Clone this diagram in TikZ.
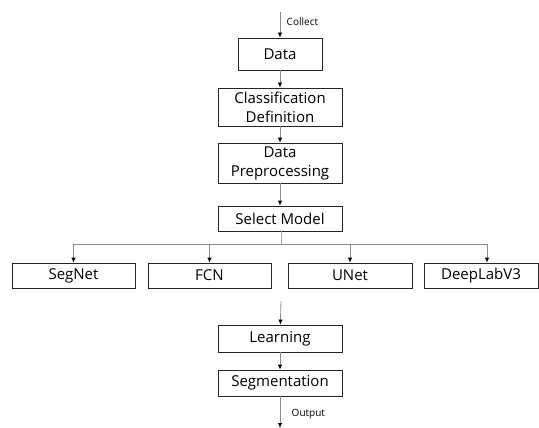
\documentclass[tikz,border=0pt]{standalone}
\usepackage{fontspec}
\setmainfont{Open Sans}
\usetikzlibrary{arrows.meta}

\tikzset{
  stage/.style={draw=black!85, line width=0.8pt, minimum width=124pt, minimum height=26pt,
    inner sep=0pt, align=center, font=\fontsize{15}{19}\selectfont},
  flow/.style={draw=black!45, line width=0.8pt, -{Latex[length=5pt,width=4.5pt,color=black]}},
  tag/.style={font=\fontsize{10}{12}\selectfont, anchor=west},
}

\begin{document}
\begin{tikzpicture}[x=1pt,y=-1pt]
\useasboundingbox (0,0) rectangle (539,428);

% main pipeline boxes
\node[stage, minimum width=84pt, minimum height=32pt] (data) at (280,54) {Data};
\node[stage, minimum height=38pt] (cls) at (280,107) {Classification\\Definition};
\node[stage, minimum height=40pt] (pre) at (280,163) {Data\\Preprocessing};
\node[stage, minimum height=25pt] (sel) at (280,218.5) {Select Model};

% candidate models
\node[stage, minimum width=123pt, minimum height=25pt] (segnet) at (73.5,275.5) {SegNet};
\node[stage, minimum width=123pt, minimum height=25pt] (fcn) at (209.5,275.5) {FCN};
\node[stage, minimum width=124pt, minimum height=25pt] (unet) at (350,275.5) {UNet};
\node[stage, minimum width=114pt, minimum height=25pt] (deeplab) at (481,275.5) {DeepLabV3};

\node[stage, minimum height=27pt] (learn) at (280,338.5) {Learning};
\node[stage, minimum height=26pt] (seg) at (280,383) {Segmentation};

% free ends of the connectors
\coordinate (top) at (280,12);
\coordinate (split) at (281,244);
\coordinate (join) at (281,301);
\coordinate (bottom) at (280,428);

% arrows
\draw[flow] (top) -- node[tag, pos=0.4, right=3pt] (collect) {Collect} (data);
\draw[flow] (data) -- (cls);
\draw[flow] (cls) -- (pre);
\draw[flow] (pre) -- (sel);
\draw[draw=blue!35!black!35, line width=0.8pt] (sel.south -| split) -- (split);
\draw[flow] (split) -| (segnet);
\draw[flow] (split) -| (fcn);
\draw[flow] (split) -| (unet);
\draw[flow] (split) -| ([xshift=6pt]deeplab.north);
\draw[flow] (join) -- (learn);
\draw[flow] (learn) -- (seg);
\draw[flow] (seg) -- node[tag, pos=0.55, right=8pt] (output) {Output} (bottom);
\end{tikzpicture}
\end{document}
